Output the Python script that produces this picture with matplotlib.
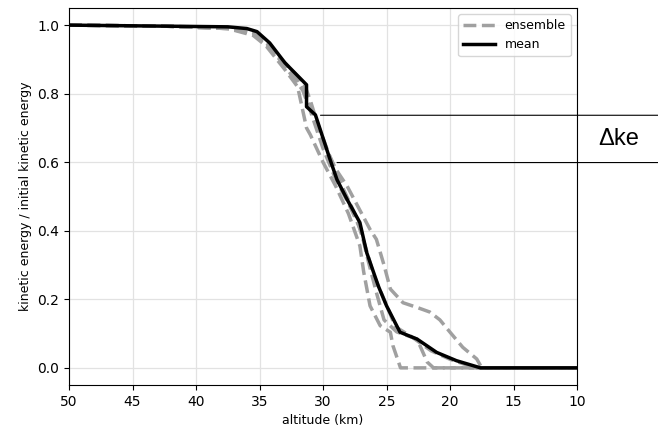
import matplotlib
matplotlib.use("Agg")
from matplotlib import pyplot as plt

# altitude (km) / normalised kinetic energy for each ensemble member
alt_a = [50, 42.5, 37.5, 35.5, 34.5, 33, 31.5, 31, 30, 29, 28.1, 26.3, 25.8, 25.2, 24.7, 23.7, 22.5, 21.6, 20.8, 20, 19, 17.9, 17.5, 10]
ke_a = [1.0, 0.997, 0.99, 0.975, 0.945, 0.89, 0.83, 0.78, 0.66, 0.58, 0.53, 0.404, 0.375, 0.3, 0.23, 0.19, 0.175, 0.163, 0.14, 0.104, 0.06, 0.026, 0.0, 0.0]

alt_b = [50, 42.5, 37.5, 35.5, 34.5, 33, 32, 31.3, 31, 30, 29, 28, 27.1, 26.8, 26.3, 25.5, 24.7, 24.5, 23.9, 10]
ke_b = [1.0, 0.997, 0.99, 0.97, 0.94, 0.87, 0.82, 0.70, 0.68, 0.6, 0.53, 0.45, 0.356, 0.28, 0.181, 0.123, 0.104, 0.065, 0.0, 0.0]

alt_c = [50, 42.5, 37.5, 35.5, 34.5, 33, 31.5, 31, 30, 29, 28, 27, 26.5, 25.8, 25.2, 24.2, 22.6, 21.8, 21.3, 10]
ke_c = [1.0, 0.997, 0.99, 0.98, 0.95, 0.88, 0.82, 0.75, 0.64, 0.55, 0.48, 0.4, 0.32, 0.22, 0.14, 0.105, 0.084, 0.017, 0.0, 0.0]

alt_d = [50, 42.5, 37.5, 36, 35, 34, 33, 31.6, 31.2, 30.5, 29.5, 28.5, 27.5, 26.8, 26, 25.2, 24.3, 23, 21.5, 20, 18, 10]
ke_d = [1.0, 0.997, 0.993, 0.985, 0.97, 0.935, 0.88, 0.81, 0.77, 0.72, 0.62, 0.53, 0.45, 0.37, 0.27, 0.2, 0.12, 0.09, 0.05, 0.025, 0.0, 0.0]

alt_mean = [50, 42.5, 37.5, 36, 35.2, 34.2, 33, 31.3, 31.3, 30.6, 29.45, 28.9, 28.1, 27.1, 26.56, 25.65, 25.0, 23.94, 22.6, 21.05, 19.5, 17.6, 10]
ke_mean = [1.0, 0.997, 0.995, 0.99, 0.981, 0.948, 0.89, 0.826, 0.762, 0.738, 0.608, 0.549, 0.491, 0.424, 0.336, 0.239, 0.181, 0.104, 0.084, 0.045, 0.021, 0.0, 0.0]

# bracket marking the energy drop
dke_alt = [30.2, 28.9]
dke_val = [0.737, 0.599]

fig = plt.figure(figsize=(6.58, 4.34), dpi=100)
ax = fig.add_axes([0.1049, 0.1129, 0.7721, 0.8687])

ens_style = dict(color="#a0a0a0", lw=2.5, ls="--")
ax.plot(alt_a, ke_a, label="ensemble", **ens_style)
ax.plot(alt_b, ke_b, **ens_style)
ax.plot(alt_c, ke_c, **ens_style)
ax.plot(alt_d, ke_d, **ens_style)
ax.plot(alt_mean, ke_mean, color="black", lw=2.5, label="mean")

ax.set_xlim(50, 10)
ax.set_ylim(-0.05, 1.05)
ax.set_xticks([50, 45, 40, 35, 30, 25, 20, 15, 10])
ax.set_yticks([0.0, 0.2, 0.4, 0.6, 0.8, 1.0])
ax.grid(True, color="#e2e2e2", lw=0.9)
ax.set_axisbelow(True)
ax.tick_params(labelsize=10)
ax.set_xlabel("altitude (km)", fontsize=9)
ax.set_ylabel("kinetic energy / initial kinetic energy", fontsize=9)
ax.legend(loc="upper right", fontsize=9, handlelength=2.5)

for a, v in zip(dke_alt, dke_val):
    ax.annotate("", xy=(a, v), xycoords="data",
                xytext=(1.0, v), textcoords=("figure fraction", "data"),
                arrowprops=dict(arrowstyle="-", lw=0.8, color="black",
                                shrinkA=0, shrinkB=0))

ax.annotate("Δke", xy=(0.941, sum(dke_val) / 2),
            xycoords=("figure fraction", "data"),
            ha="center", va="center", fontsize=17, family="Liberation Sans")

fig.savefig("out.png", dpi=100)
